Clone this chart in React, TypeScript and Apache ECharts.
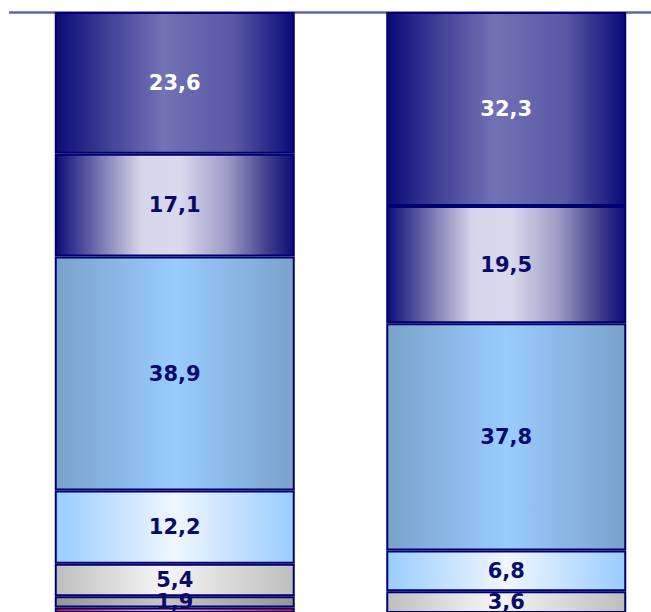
import React, { useEffect, useRef } from "react";
import * as echarts from "echarts";

const categories = ["1", "2"];
const redValues = [0.9, 0];
const darkGrayValues = [1.9, 0];
const lightGrayValues = [5.4, 3.6];
const lightBlueValues = [12.2, 6.8];
const midBlueValues = [38.9, 37.8];
const lavenderValues = [17.1, 19.5];
const navyValues = [23.6, 32.3];

const grad = (stops: [number, string][]) => ({
  type: "linear",
  x: 0,
  y: 0,
  x2: 1,
  y2: 0,
  colorStops: stops.map(([offset, color]) => ({ offset, color })),
});

const fmt = (p: any) => (p.value ? Number(p.value).toFixed(1).replace(".", ",") : "");

export default function App() {
  const ref = useRef<HTMLDivElement>(null);
  useEffect(() => {
    if (!ref.current) return;
    const chart = echarts.init(ref.current, null, { renderer: "svg" });
    const mk = (name: string, data: number[], fill: any, labelColor: string, showLabel = true) => ({
      name,
      type: "bar",
      stack: "total",
      data,
      barWidth: 240,
      itemStyle: { color: fill, borderColor: "#000070", borderWidth: 2 },
      label: {
        show: showLabel,
        position: "inside",
        formatter: fmt,
        color: labelColor,
        fontFamily: "DejaVu Sans",
        fontWeight: "bold",
        fontSize: 21,
      },
    });
    chart.setOption({
      animation: false,
      grid: { left: 9, top: 12, width: 663, height: 601 },
      xAxis: {
        type: "category",
        data: categories,
        axisLine: { show: false },
        axisTick: { show: false },
        axisLabel: { show: false },
      },
      yAxis: {
        type: "value",
        min: 0,
        max: 100,
        interval: 100,
        axisLabel: { show: false },
        axisLine: { show: false },
        axisTick: { show: false },
        splitLine: { show: true, lineStyle: { color: "#6464a6", width: 2.5 } },
      },
      series: [
        mk("red", redValues, grad([[0, "#e4102c"], [0.45, "#f4b0c0"], [1, "#e4102c"]]), "#0a0a6a", false),
        mk("darkgray", darkGrayValues, grad([[0, "#969696"], [0.45, "#c6c6c6"], [1, "#969696"]]), "#0a0a6a"),
        mk("lightgray", lightGrayValues, grad([[0, "#bebebe"], [0.45, "#f6f6f6"], [1, "#bebebe"]]), "#0a0a6a"),
        mk("lightblue", lightBlueValues, grad([[0, "#99ccff"], [0.5, "#f0f7ff"], [1, "#99ccff"]]), "#0a0a6a"),
        mk("midblue", midBlueValues, grad([[0, "#7aa2ca"], [0.5, "#99ccff"], [1, "#7aa2ca"]]), "#0a0a6a"),
        mk(
          "lavender",
          lavenderValues,
          grad([[0, "#0c0c78"], [0.22, "#8a8abc"], [0.36, "#d6d6ea"], [0.52, "#dadaee"], [0.72, "#9c9cc6"], [0.88, "#44448e"], [1, "#0c0c78"]]),
          "#0a0a6a"
        ),
        mk(
          "navy",
          navyValues,
          grad([[0, "#0a0a78"], [0.2, "#3c3c94"], [0.45, "#7272b6"], [0.75, "#5858a4"], [1, "#0a0a78"]]),
          "#ffffff"
        ),
      ],
    });
    return () => chart.dispose();
  }, []);
  return (
    <div
      ref={ref}
      style={{ position: "fixed", left: 0, top: 0, width: 690, height: 640, background: "#ffffff" }}
    />
  );
}
